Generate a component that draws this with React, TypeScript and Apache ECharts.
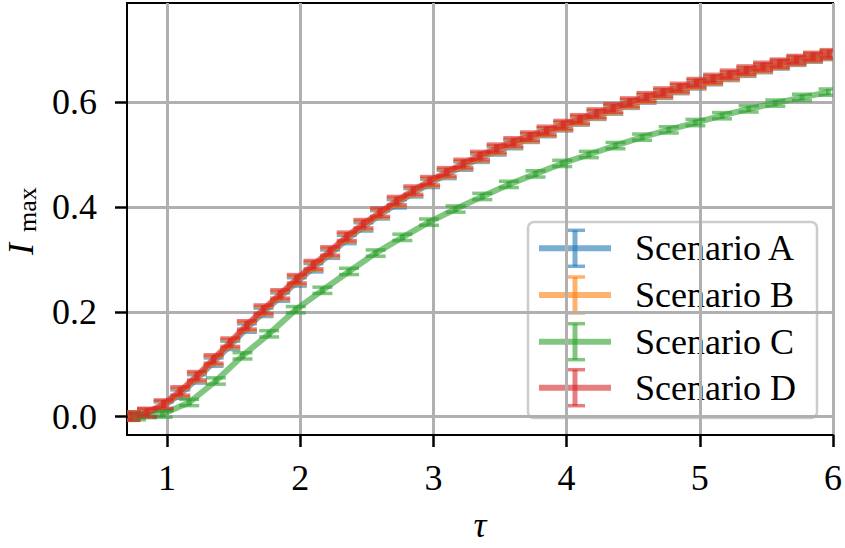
import React, { useEffect, useRef } from "react";
import * as echarts from "echarts";

// ---- data ----
const xABD = [0.725, 0.85, 0.975, 1.1, 1.225, 1.35, 1.475, 1.6, 1.725, 1.85, 1.975, 2.1, 2.225, 2.35, 2.475, 2.6, 2.725, 2.85, 2.975, 3.1, 3.225, 3.35, 3.475, 3.6, 3.725, 3.85, 3.975, 4.1, 4.225, 4.35, 4.475, 4.6, 4.725, 4.85, 4.975, 5.1, 5.225, 5.35, 5.475, 5.6, 5.725, 5.85, 5.975];
const xC = [0.767, 0.967, 1.167, 1.367, 1.567, 1.767, 1.967, 2.167, 2.367, 2.567, 2.767, 2.967, 3.167, 3.367, 3.567, 3.767, 3.967, 4.167, 4.367, 4.567, 4.767, 4.967, 5.167, 5.367, 5.567, 5.767, 5.967];

const scenarioA = [0.001, 0.006, 0.020, 0.043, 0.072, 0.104, 0.136, 0.169, 0.199, 0.228, 0.257, 0.284, 0.310, 0.338, 0.362, 0.385, 0.406, 0.427, 0.445, 0.462, 0.478, 0.493, 0.507, 0.519, 0.531, 0.542, 0.553, 0.564, 0.575, 0.585, 0.596, 0.606, 0.615, 0.624, 0.633, 0.641, 0.649, 0.657, 0.664, 0.671, 0.678, 0.684, 0.689];
const scenarioB = [0.001, 0.007, 0.022, 0.046, 0.075, 0.107, 0.139, 0.172, 0.202, 0.231, 0.260, 0.287, 0.313, 0.341, 0.365, 0.387, 0.409, 0.429, 0.447, 0.464, 0.480, 0.495, 0.509, 0.521, 0.532, 0.543, 0.554, 0.565, 0.576, 0.586, 0.597, 0.607, 0.616, 0.625, 0.634, 0.642, 0.650, 0.658, 0.665, 0.672, 0.679, 0.685, 0.690];
const scenarioC = [0.000, 0.005, 0.027, 0.068, 0.116, 0.158, 0.204, 0.241, 0.277, 0.312, 0.342, 0.371, 0.396, 0.420, 0.443, 0.463, 0.483, 0.500, 0.517, 0.533, 0.547, 0.561, 0.574, 0.587, 0.598, 0.609, 0.619];
const scenarioD = [0.001, 0.008, 0.024, 0.049, 0.078, 0.110, 0.142, 0.175, 0.205, 0.234, 0.263, 0.290, 0.316, 0.344, 0.368, 0.390, 0.412, 0.432, 0.450, 0.467, 0.483, 0.498, 0.512, 0.524, 0.535, 0.546, 0.557, 0.568, 0.579, 0.589, 0.600, 0.610, 0.619, 0.628, 0.637, 0.645, 0.653, 0.661, 0.668, 0.674, 0.681, 0.687, 0.692];

const errABD = 0.008;
const errC = 0.006;

const names = ["Scenario A", "Scenario B", "Scenario C", "Scenario D"];
const colors = ["#1f77b4", "#ff7f0e", "#2ca02c", "#d62728"];
const xTicks = [1, 2, 3, 4, 5, 6];
const yTicks = [0, 0.2, 0.4, 0.6];

const FONT = '"Liberation Serif", "Times New Roman", serif';

export default function App() {
  const ref = useRef<HTMLDivElement>(null);
  useEffect(() => {
    if (!ref.current) return;
    const chart = echarts.init(ref.current, undefined, { renderer: "svg" });

    const sets = [
      { x: xABD, y: scenarioA, e: errABD },
      { x: xABD, y: scenarioB, e: errABD },
      { x: xC, y: scenarioC, e: errC },
      { x: xABD, y: scenarioD, e: errABD },
    ];

    const series: any[] = [];
    sets.forEach((s, i) => {
      const color = colors[i];
      series.push({
        type: "line",
        name: names[i],
        data: s.x.map((xv, k) => [xv, s.y[k]]),
        showSymbol: false,
        symbol: "none",
        lineStyle: { color, width: 6, opacity: 0.6 },
        itemStyle: { color },
        z: 2 + i,
        silent: true,
      });
      series.push({
        type: "custom",
        name: names[i] + " err",
        data: s.x.map((xv, k) => [xv, s.y[k], s.e]),
        encode: { x: 0, y: 1 },
        clip: true,
        z: 2 + i,
        silent: true,
        renderItem: (params: any, api: any) => {
          const xv = api.value(0);
          const yv = api.value(1);
          const ev = api.value(2);
          const lo = api.coord([xv, yv - ev]);
          const hi = api.coord([xv, yv + ev]);
          const cw = 10;
          const capStyle = { stroke: color, lineWidth: 3.5, opacity: 0.6 };
          return {
            type: "group",
            children: [
              { type: "line", shape: { x1: lo[0], y1: lo[1], x2: hi[0], y2: hi[1] }, style: { stroke: color, lineWidth: 5, opacity: 0.6 } },
              { type: "line", shape: { x1: lo[0] - cw, y1: lo[1], x2: lo[0] + cw, y2: lo[1] }, style: capStyle },
              { type: "line", shape: { x1: hi[0] - cw, y1: hi[1], x2: hi[0] + cw, y2: hi[1] }, style: capStyle },
            ],
          };
        },
      });
    });

    // legend graphic
    const legendX = 528;
    const legendY = 222;
    const rowY = [248.3, 295, 341.7, 387.7];
    const legendChildren: any[] = [
      {
        type: "rect",
        shape: { x: legendX, y: legendY, width: 289, height: 196, r: 6 },
        style: { fill: "rgba(255,255,255,0.8)", stroke: "#cccccc", lineWidth: 2.5 },
      },
    ];
    names.forEach((n, i) => {
      const yc = rowY[i];
      const c = colors[i];
      const st = { stroke: c, opacity: 0.6 };
      legendChildren.push(
        { type: "line", shape: { x1: 539, y1: yc, x2: 611, y2: yc }, style: { ...st, lineWidth: 6 } },
        { type: "line", shape: { x1: 575, y1: yc - 18, x2: 575, y2: yc + 18 }, style: { ...st, lineWidth: 5 } },
        { type: "line", shape: { x1: 565, y1: yc - 18, x2: 585, y2: yc - 18 }, style: { ...st, lineWidth: 3.5 } },
        { type: "line", shape: { x1: 565, y1: yc + 18, x2: 585, y2: yc + 18 }, style: { ...st, lineWidth: 3.5 } },
        {
          type: "text",
          x: 635,
          y: yc,
          style: { text: n, font: `36px ${FONT}`, fill: "#000", align: "left", verticalAlign: "middle" },
        }
      );
    });

    chart.setOption({
      animation: false,
      backgroundColor: "#ffffff",
      textStyle: { fontFamily: FONT },
      grid: {
        left: 127,
        top: 3,
        width: 706,
        height: 433,
        show: true,
        borderColor: "#000",
        borderWidth: 2,
        backgroundColor: "transparent",
      },
      xAxis: {
        type: "value",
        min: 0.7,
        max: 6,
        name: "τ",
        nameLocation: "middle",
        nameGap: 72,
        nameTextStyle: { fontFamily: FONT, fontSize: 36, fontStyle: "italic", color: "#000" },
        axisLine: { show: true, onZero: false, lineStyle: { color: "#000", width: 2 } },
        axisTick: { show: true, length: 12, lineStyle: { color: "#000", width: 2.5 }, customValues: xTicks },
        axisLabel: {
          show: true,
          margin: 25,
          fontSize: 36,
          fontFamily: FONT,
          color: "#000",
          customValues: xTicks,
          formatter: (v: number) => String(Math.round(v)),
        },
        splitLine: { show: true, lineStyle: { color: "#b0b0b0", width: 3 } },
      },
      yAxis: {
        type: "value",
        min: -0.035,
        max: 0.789,
        axisLine: { show: true, onZero: false, lineStyle: { color: "#000", width: 2 } },
        axisTick: { show: true, length: 12, lineStyle: { color: "#000", width: 2.5 }, customValues: yTicks },
        axisLabel: {
          show: true,
          margin: 30,
          fontSize: 36,
          fontFamily: FONT,
          color: "#000",
          customValues: yTicks,
          formatter: (v: number) => v.toFixed(1),
        },
        splitLine: { show: true, lineStyle: { color: "#b0b0b0", width: 3 } },
      },
      series,
      graphic: [
        {
          type: "group",
          x: 21,
          y: 220,
          rotation: Math.PI / 2,
          children: [
            {
              type: "text",
              x: -35,
              y: 0,
              style: { text: "I", font: `italic 36px ${FONT}`, fill: "#000", align: "left", verticalAlign: "middle" },
            },
            {
              type: "text",
              x: -12,
              y: 6,
              style: { text: "max", font: `26px ${FONT}`, fill: "#000", align: "left", verticalAlign: "middle" },
            },
          ],
        },
        { type: "group", z: 100, children: legendChildren },
      ],
    });

    return () => chart.dispose();
  }, []);

  return (
    <div
      ref={ref}
      style={{ position: "fixed", left: 0, top: 0, width: 845, height: 548, background: "#fff" }}
    />
  );
}
